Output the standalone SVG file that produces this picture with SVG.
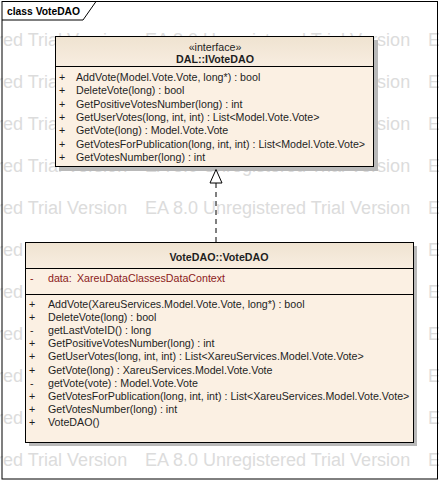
<svg xmlns="http://www.w3.org/2000/svg" width="439" height="481" viewBox="0 0 439 481">
<style>
.wm{font-family:"Liberation Sans",Arial,sans-serif;font-size:18px;fill:#dcdcdc}
.t{font-family:"Liberation Sans",Arial,sans-serif;font-size:10.67px;fill:#1e1e1e}
.b{font-weight:bold}
.m{text-anchor:middle}
.attr{fill:#8b1a1a}
.box{fill:#fbf0e3;stroke:#000;stroke-width:1}
.shadow{fill:#b9b9b9}
.ln{stroke:#000;stroke-width:1}
</style>
<defs>
<linearGradient id="hdr" x1="0" y1="0" x2="0" y2="1">
<stop offset="0" stop-color="#efe3d1"/>
<stop offset="1" stop-color="#f8ede0"/>
</linearGradient>
<g id="wmrow">
<text class="wm" x="-138">EA 8.0 Unregistered Trial Version</text>
<text class="wm" x="145">EA 8.0 Unregistered Trial Version</text>
<text class="wm" x="428">EA 8.0 Unregistered Trial Version</text>
</g>
</defs>
<rect width="439" height="481" fill="#fff"/>
<g id="watermark">
<use href="#wmrow" y="46"/>
<use href="#wmrow" y="88"/>
<use href="#wmrow" y="130"/>
<use href="#wmrow" y="172"/>
<use href="#wmrow" y="214"/>
<use href="#wmrow" y="256"/>
<use href="#wmrow" y="298"/>
<use href="#wmrow" y="340"/>
<use href="#wmrow" y="382"/>
<use href="#wmrow" y="424"/>
<use href="#wmrow" y="466"/>
</g>
<g id="frame">
<rect x="2" y="1.5" width="435.5" height="477.5" fill="none" class="ln"/>
<path d="M2,20 H83 L96,1.5" fill="none" class="ln"/>
<text class="t b" x="7" y="15" style="font-size:10.3px;fill:#000">class VoteDAO</text>
</g>
<g id="IVoteDAO">
<rect class="shadow" x="59" y="40" width="319" height="131"/>
<rect class="box" x="55.5" y="36.5" width="318" height="130"/>
<rect x="56" y="37" width="317" height="29" fill="url(#hdr)"/>
<line class="ln" x1="55.5" y1="66.5" x2="373.5" y2="66.5"/>
<text class="t m" x="215" y="51">«interface»</text>
<text class="t b m" x="215" y="63">DAL::IVoteDAO</text>
<g class="t">
<text x="59" y="81">+</text><text x="76" y="81">AddVote(Model.Vote.Vote, long*) : bool</text>
<text x="59" y="94.3">+</text><text x="76" y="94.3">DeleteVote(long) : bool</text>
<text x="59" y="107.7">+</text><text x="76" y="107.7">GetPositiveVotesNumber(long) : int</text>
<text x="59" y="121">+</text><text x="76" y="121">GetUserVotes(long, int, int) : List&lt;Model.Vote.Vote&gt;</text>
<text x="59" y="134.3">+</text><text x="76" y="134.3">GetVote(long) : Model.Vote.Vote</text>
<text x="59" y="147.7">+</text><text x="76" y="147.7">GetVotesForPublication(long, int, int) : List&lt;Model.Vote.Vote&gt;</text>
<text x="59" y="161">+</text><text x="76" y="161">GetVotesNumber(long) : int</text>
</g>
</g>
<g id="VoteDAO">
<rect class="shadow" x="29" y="246" width="388" height="200"/>
<rect class="box" x="25.5" y="242.5" width="388" height="200"/>
<rect x="26" y="243" width="387" height="25" fill="url(#hdr)"/>
<line class="ln" x1="25.5" y1="268.5" x2="413.5" y2="268.5"/>
<line class="ln" x1="25.5" y1="294.5" x2="413.5" y2="294.5"/>
<text class="t b m" x="219" y="261">VoteDAO::VoteDAO</text>
<text class="t attr" x="30" y="282">-</text>
<text class="t attr" x="48" y="282">data:</text>
<text class="t attr" x="77" y="282">XareuDataClassesDataContext</text>
<g class="t">
<text x="29" y="308">+</text><text x="48" y="308">AddVote(XareuServices.Model.Vote.Vote, long*) : bool</text>
<text x="29" y="321.1">+</text><text x="48" y="321.1">DeleteVote(long) : bool</text>
<text x="30" y="334.2">-</text><text x="48" y="334.2">getLastVoteID() : long</text>
<text x="29" y="347.3">+</text><text x="48" y="347.3">GetPositiveVotesNumber(long) : int</text>
<text x="29" y="360.4">+</text><text x="48" y="360.4">GetUserVotes(long, int, int) : List&lt;XareuServices.Model.Vote.Vote&gt;</text>
<text x="29" y="373.5">+</text><text x="48" y="373.5">GetVote(long) : XareuServices.Model.Vote.Vote</text>
<text x="30" y="386.6">-</text><text x="48" y="386.6">getVote(vote) : Model.Vote.Vote</text>
<text x="29" y="399.7">+</text><text x="48" y="399.7">GetVotesForPublication(long, int, int) : List&lt;XareuServices.Model.Vote.Vote&gt;</text>
<text x="29" y="412.8">+</text><text x="48" y="412.8">GetVotesNumber(long) : int</text>
<text x="29" y="425.9">+</text><text x="48" y="425.9">VoteDAO()</text>
</g>
</g>
<g id="connectors">
<line x1="216" y1="183" x2="216" y2="242" stroke="#000" stroke-dasharray="5,4"/>
<path d="M216,169.5 L222,183 L210,183 Z" fill="#fff" stroke="#000"/>
</g>
</svg>
